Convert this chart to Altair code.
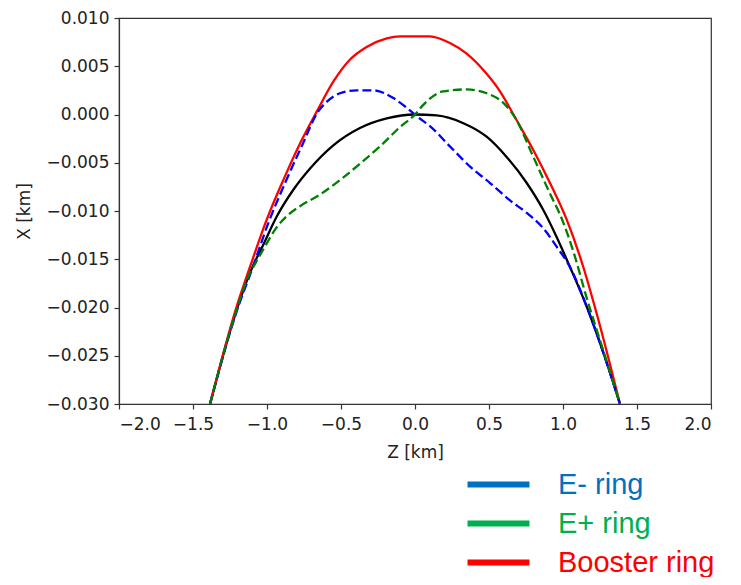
import altair as alt
import pandas as pd

# ---- data ----
z_ref = [-1.385, -1.227, -1.115, -1.025, -0.935, -0.822, -0.709, -0.552, -0.372, -0.191, 0.0,
         0.146, 0.327, 0.484, 0.619, 0.755, 0.867, 0.957, 1.047, 1.16, 1.273, 1.385]
x_ref = [-0.030, -0.0213, -0.0164, -0.0135, -0.0106, -0.0078, -0.0056, -0.0032, -0.0014, -0.0004, 0.0,
         -0.0001, -0.0009, -0.0023, -0.0044, -0.0071, -0.0099, -0.0127, -0.0158, -0.0199, -0.0247, -0.030]

z_booster = [-1.385, -1.205, -1.115, -1.002, -0.890, -0.777, -0.664, -0.552, -0.439, -0.327, -0.191, -0.101, 0.0,
             0.101, 0.236, 0.349, 0.462, 0.574, 0.687, 0.80, 0.912, 1.025, 1.137, 1.227, 1.385]
x_booster = [-0.030, -0.0199, -0.0158, -0.0109, -0.0068, -0.0030, 0.0003, 0.0034, 0.0057, 0.0070, 0.0079, 0.0081, 0.0081,
             0.0081, 0.0074, 0.0063, 0.0046, 0.0024, -0.0006, -0.0037, -0.0071, -0.0109, -0.0158, -0.0206, -0.030]

z_eminus = [-1.385, -1.205, -1.10, -0.99, -0.875, -0.76, -0.655, -0.597, -0.507, -0.394, -0.282, -0.146, -0.056,
            0.022, 0.101, 0.236, 0.372, 0.507, 0.642, 0.755, 0.867, 0.957, 1.047, 1.16, 1.273, 1.385]
x_eminus = [-0.030, -0.0204, -0.0160, -0.0112, -0.0070, -0.0031, 0.0003, 0.0013, 0.0022, 0.0025, 0.0025, 0.0017, 0.0007,
            -0.0003, -0.0012, -0.0033, -0.0054, -0.0071, -0.0089, -0.0102, -0.0118, -0.0137, -0.0158, -0.0199, -0.0247, -0.030]

z_eplus = [-1.385, -1.227, -1.115, -1.07, -1.0, -0.935, -0.856, -0.777, -0.642, -0.507, -0.372, -0.236, -0.101, 0.0,
           0.056, 0.191, 0.349, 0.484, 0.597, 0.687, 0.788, 0.90, 1.002, 1.07, 1.16, 1.273, 1.385]
x_eplus = [-0.030, -0.0213, -0.0164, -0.0152, -0.0133, -0.0117, -0.0104, -0.0095, -0.0083, -0.0068, -0.0051, -0.0033, -0.0013, 0.0,
           0.0010, 0.0024, 0.0026, 0.0022, 0.0012, -0.0006, -0.0040, -0.0078, -0.0112, -0.0142, -0.0190, -0.0245, -0.030]

x_ticks = [-2.0, -1.5, -1.0, -0.5, 0.0, 0.5, 1.0, 1.5, 2.0]
y_ticks = [-0.030, -0.025, -0.020, -0.015, -0.010, -0.005, 0.000, 0.005, 0.010]

legend_labels = ["E- ring", "E+ ring", "Booster ring"]
legend_colors = ["#0070C0", "#00B050", "#FF0000"]


def frame(name, zs, xs):
    return pd.DataFrame({"series": name, "z": zs, "x": xs})


df = pd.concat([
    frame("ref", z_ref, x_ref),
    frame("booster", z_booster, x_booster),
    frame("eminus", z_eminus, x_eminus),
    frame("eplus", z_eplus, x_eplus),
], ignore_index=True)

legend_df = pd.DataFrame({"series": legend_labels, "z": [None] * 3, "x": [None] * 3})

x_enc = alt.X("z:Q", scale=alt.Scale(domain=[-2, 2], nice=False, zero=False),
              axis=alt.Axis(values=x_ticks, format=".1f", title="Z [km]", labelPadding=7, titlePadding=12))
y_enc = alt.Y("x:Q", scale=alt.Scale(domain=[-0.03, 0.01], nice=False, zero=False),
              axis=alt.Axis(values=y_ticks, format=".3f", title="X [km]", labelPadding=5, titlePadding=13))

base = alt.Chart(df).encode(x=x_enc, y=y_enc)


def curve(name, color, dash):
    m = dict(color=color, strokeWidth=2.3, interpolate="monotone", clip=True)
    if dash:
        m["strokeDash"] = [9, 4]
    return base.transform_filter(alt.datum.series == name).mark_line(**m)


label_expr = " : ".join(
    f"datum.label === '{lab}' ? '{col}'" for lab, col in zip(legend_labels[:-1], legend_colors[:-1])
) + f" : '{legend_colors[-1]}'"

legend_layer = alt.Chart(legend_df).mark_line(strokeWidth=6).encode(
    x=x_enc, y=y_enc,
    color=alt.Color("series:N",
                    scale=alt.Scale(domain=legend_labels, range=legend_colors),
                    legend=alt.Legend(title=None, orient="none", direction="vertical",
                                      legendX=365, legendY=452, padding=0,
                                      symbolType="M-8,0H8", symbolSize=60, symbolStrokeWidth=6,
                                      symbolOpacity=1,
                                      labelFont="Liberation Sans", labelFontSize=29,
                                      labelOffset=45, rowPadding=9,
                                      labelColor=alt.ExprRef(label_expr))),
)

chart = alt.layer(
    curve("ref", "#000000", False),
    curve("booster", "#ff0000", False),
    curve("eminus", "#0000ff", True),
    curve("eplus", "#008000", True),
    legend_layer,
).properties(
    width=592, height=386,
    autosize=alt.AutoSizeParams(type="none"),
    padding={"left": 111, "top": 10, "right": 14, "bottom": 173},
).configure_axis(
    labelFont="DejaVu Sans", labelFontSize=17, labelColor="#222222",
    titleFont="DejaVu Sans", titleFontSize=17, titleFontWeight="normal", titleColor="#222222",
    domainColor="#333333", tickColor="#333333", tickSize=5, domainWidth=1.2, tickWidth=1.2,
    grid=False,
).configure_view(stroke="#333333", strokeWidth=1.2)

chart.save("out.html", embed_options={"renderer": "svg", "actions": False})
